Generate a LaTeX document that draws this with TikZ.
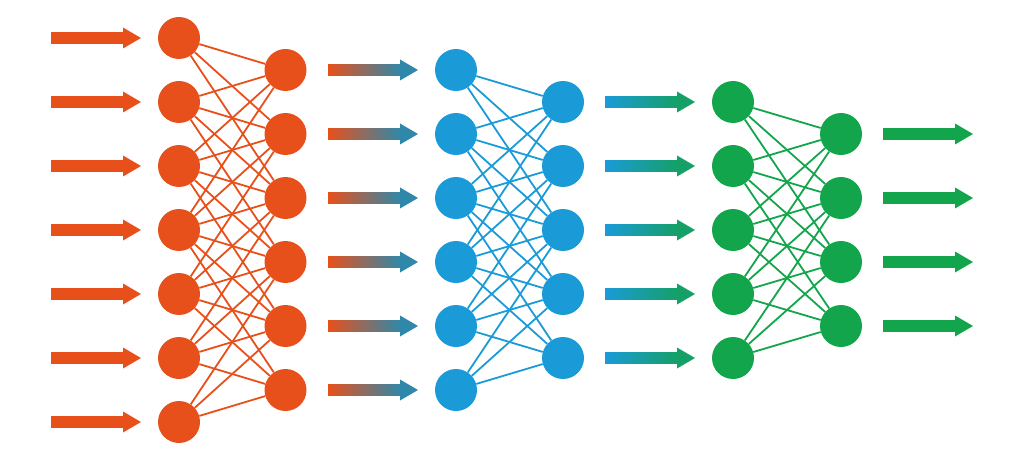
\documentclass[tikz,border=0pt]{standalone}
\definecolor{orng}{HTML}{E8501B}
\definecolor{blu}{HTML}{1A9BD7}
\definecolor{grn}{HTML}{13A54B}
\definecolor{tealb}{HTML}{2F88AA}
\definecolor{tealg}{HTML}{15A068}
\newcommand\fatarrow[4]{% x0, y, start colour, end colour
  \shade[left color=#3,right color=#4] (#1,#2-5.5) rectangle (#1+73,#2+5.5);
  \fill[#4] (#1+72,#2-10.5) -- (#1+90,#2) -- (#1+72,#2+10.5) -- cycle;}
% connect layer-a node i to layer-b node j when -3 <= j-i <= 2
\newcommand\linklayers[5]{% a-name, a-count-1, b-name, b-count-1, colour
  \foreach \i in {0,...,#2} \foreach \j in {0,...,#4} {%
    \pgfmathtruncatemacro\dd{\j-\i}%
    \ifnum\dd>-4 \ifnum\dd<3 \draw[edge,#5] (#1\i) -- (#3\j);\fi\fi}}
\begin{document}
\begin{tikzpicture}[x=1pt,y=-1pt,
  neuron/.style={circle,inner sep=0pt,minimum size=42pt},
  edge/.style={line width=1.8pt}]
\useasboundingbox (0,0) rectangle (1024,462);
% nodes
\foreach \k in {0,...,6} \node[neuron,fill=orng] (oa\k) at (179,38+64*\k) {};
\foreach \k in {0,...,5} \node[neuron,fill=orng] (ob\k) at (285.5,70+64*\k) {};
\foreach \k in {0,...,5} \node[neuron,fill=blu] (ba\k) at (456,70+64*\k) {};
\foreach \k in {0,...,4} \node[neuron,fill=blu] (bb\k) at (563,102+64*\k) {};
\foreach \k in {0,...,4} \node[neuron,fill=grn] (ga\k) at (733,102+64*\k) {};
\foreach \k in {0,...,3} \node[neuron,fill=grn] (gb\k) at (841,134+64*\k) {};
% edges
\linklayers{oa}{6}{ob}{5}{orng}
\linklayers{ba}{5}{bb}{4}{blu}
\linklayers{ga}{4}{gb}{3}{grn}
% arrows
\foreach \k in {0,...,6} {\fatarrow{51}{38+64*\k}{orng}{orng}}
\foreach \k in {0,...,5} {\fatarrow{328}{70+64*\k}{orng}{tealb}}
\foreach \k in {0,...,4} {\fatarrow{605}{102+64*\k}{blu}{tealg}}
\foreach \k in {0,...,3} {\fatarrow{883}{134+64*\k}{grn}{grn}}
\end{tikzpicture}
\end{document}
